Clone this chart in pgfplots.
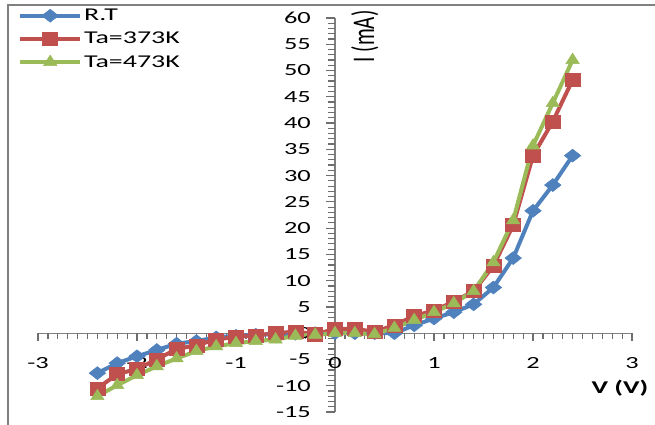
\documentclass[border=0pt]{standalone}
\usepackage{fontspec}
\setmainfont{Carlito}
\usepackage{pgfplots}
\pgfplotsset{compat=1.18}
\definecolor{xlblue}{HTML}{4F81BD}
\definecolor{xlred}{HTML}{C0504D}
\definecolor{xlgreen}{HTML}{9BBB59}
\definecolor{axgray}{HTML}{808080}
\definecolor{tickgray}{HTML}{6E6E6E}
\newcommand{\wide}[1]{\scalebox{1.55}[1]{#1}}

\begin{document}
\begin{tikzpicture}
\useasboundingbox (-38pt,-13pt) rectangle (617pt,412pt);
\draw[axgray, line width=2pt] (-30pt,-14pt) -- (-30pt,407pt) -- (618pt,407pt);
\begin{axis}[
  at={(0,0)}, anchor=south west,
  scale only axis, width=594pt, height=394pt,
  xmin=-3, xmax=3, ymin=-15, ymax=60,
  axis lines=middle,
  axis line style={axgray, line width=1.2pt, -},
  xtick=\empty, ytick=\empty,
  clip=false,
  legend style={at={(0,1)}, anchor=north west, xshift=-20pt, yshift=11pt,
    draw=none, fill=none, font=\fontsize{18}{18}\selectfont,
    row sep=6pt, cells={anchor=west}, inner sep=0pt},
  legend image code/.code={\draw[mark repeat=2, mark phase=2, #1]
    plot coordinates {(0pt,0pt) (30pt,0pt) (60pt,0pt)};},
]
% ticks of the axes crossing at the origin
\pgfplotsinvokeforeach{-15,...,60}{
  \draw[tickgray, line width=1.2pt] (axis cs:0,#1) -- ++(-7pt,0pt);}
\pgfplotsinvokeforeach{-15,-10,...,60}{
  \draw[tickgray, line width=1.2pt] (axis cs:0,#1) -- ++(-9pt,0pt);}
\pgfplotsinvokeforeach{-3,-2.9,...,3.05}{
  \draw[tickgray, line width=1.2pt] (axis cs:#1,0) -- ++(0pt,-6pt);}
\pgfplotsinvokeforeach{-3,...,3}{
  \draw[tickgray, line width=1.2pt] (axis cs:#1,0) -- ++(0pt,-8pt);}

\addplot[color=xlblue, line width=4pt, mark=diamond*, mark size=6.5pt,
  mark options={xscale=1.7, line width=0.5pt}] coordinates {
(-2.4,-7.6) (-2.2,-5.7) (-2.0,-4.4) (-1.8,-3.2) (-1.6,-2.0) (-1.4,-1.5)
(-1.2,-0.8) (-1.0,-0.5) (-0.8,-0.3) (-0.6,-0.2) (-0.4,-0.1) (-0.2,0)
(0,0) (0.2,0) (0.4,0) (0.6,0) (0.8,1.5) (1.0,2.8) (1.2,4.0) (1.4,5.5)
(1.6,8.7) (1.8,14.3) (2.0,23.3) (2.2,28.2) (2.4,33.8)};
\addplot[color=xlred, line width=4pt, mark=square*, mark size=6.5pt,
  mark options={xscale=1.15, line width=0.5pt}] coordinates {
(-2.4,-10.5) (-2.2,-7.8) (-2.0,-6.8) (-1.8,-5.0) (-1.6,-3.0) (-1.4,-2.3)
(-1.2,-1.2) (-1.0,-0.7) (-0.8,-0.4) (-0.6,0) (-0.4,0.3) (-0.2,-0.2)
(0,0.8) (0.2,0.8) (0.4,0.3) (0.6,1.5) (0.8,3.3) (1.0,4.3) (1.2,6.0) (1.4,8.0)
(1.6,12.8) (1.8,20.6) (2.0,33.8) (2.2,40.3) (2.4,48.2)};
\addplot[color=xlgreen, line width=4pt, mark=triangle*, mark size=7pt,
  mark options={xscale=1.1, line width=0.5pt}] coordinates {
(-2.4,-12.0) (-2.2,-9.9) (-2.0,-8.0) (-1.8,-6.3) (-1.6,-4.8) (-1.4,-3.4)
(-1.2,-2.5) (-1.0,-1.9) (-0.8,-1.5) (-0.6,-1.2) (-0.4,-0.5) (-0.2,-0.3)
(0,0) (0.2,0) (0.4,-0.2) (0.6,1.0) (0.8,2.5) (1.0,4.0) (1.2,5.7) (1.4,8.0)
(1.6,13.5) (1.8,21.5) (2.0,35.7) (2.2,43.8) (2.4,52.0)};
\legend{\wide{R.T}, \wide{Ta=373K}, \wide{Ta=473K}}

% tick labels, set after the series so none is hidden
\pgfplotsinvokeforeach{-15,-10,...,60}{
  \node[anchor=east, inner sep=0pt, font=\fontsize{17}{17}\selectfont]
    at (axis cs:0,#1) [xshift=-24pt] {\wide{#1}};}
\pgfplotsinvokeforeach{-3,...,3}{
  \node[inner sep=0pt, font=\fontsize{17}{17}\selectfont]
    at (axis cs:#1,0) [yshift=-30pt] {\wide{#1}};}
\node[rotate=90, font=\fontsize{21}{21}\selectfont] at (axis cs:0.3,56.5) {\scalebox{1}[1.5]{I (mA)}};
\node[anchor=east, font=\bfseries\fontsize{18}{18}\selectfont] at (axis cs:3.2,-10.5) {\wide{V (V)}};
\end{axis}
\end{tikzpicture}
\end{document}
